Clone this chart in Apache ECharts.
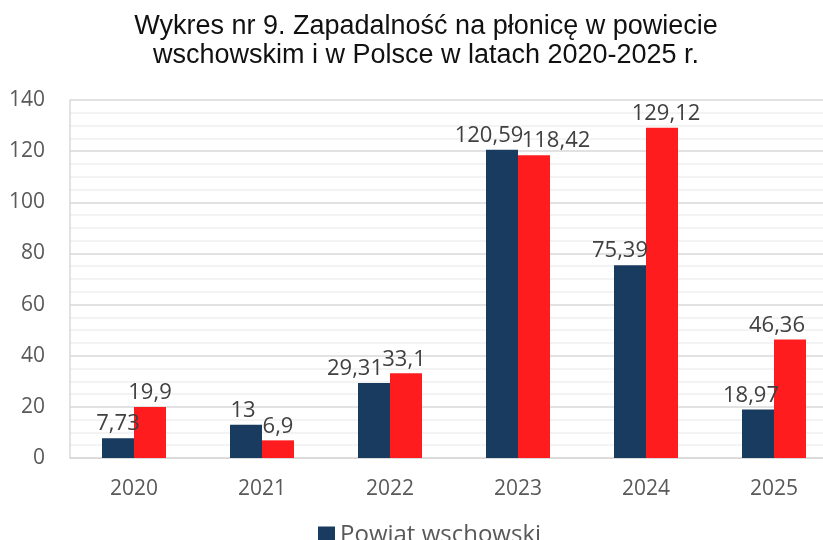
<!DOCTYPE html>
<html>
<head>
<meta charset="utf-8">
<script src="https://cdn.jsdelivr.net/npm/echarts@6/dist/echarts.min.js"></script>
<style>html,body{margin:0;padding:0;background:#fff;}#c{width:823px;height:540px;}</style>
</head>
<body>
<div id="c"></div>
<script>
var categories = ['2020', '2021', '2022', '2023', '2024', '2025'];
var powiatValues = [7.73, 13, 29.31, 120.59, 75.39, 18.97];
var polskaValues = [19.9, 6.9, 33.1, 118.42, 129.12, 46.36];
var seriesNames = ['Powiat wschowski', 'Polska'];
var yTicks = [0, 20, 40, 60, 80, 100, 120, 140];

var powiatShift = [0, -3, -19, -13, -10, -7];
var polskaShift = [0, 0, -2, 22, 4, -13];

function fmt(v) { return String(v).replace('.', ','); }
function build(vals, shifts) {
  return vals.map(function (v, i) {
    return { value: v, label: { offset: [shifts[i], 0] } };
  });
}

var chart = echarts.init(document.getElementById('c'), null, { renderer: 'canvas' });
var labelStyle = {
  show: true, position: 'top', distance: 3,
  fontFamily: 'Open Sans, Liberation Sans, sans-serif', fontSize: 22, color: '#404040',
  formatter: function (p) { return fmt(p.value); }
};
chart.setOption({
  animation: false,
  title: {
    text: 'Wykres nr 9. Zapadalność na płonicę w powiecie\nwschowskim i w Polsce w latach 2020-2025 r.',
    left: 421, top: 7, textAlign: 'center',
    textStyle: { fontFamily: 'Liberation Sans, Arial, sans-serif', fontSize: 27, fontWeight: 'normal', color: '#111', lineHeight: 29 }
  },
  legend: {
    data: [seriesNames[0]],
    left: 313, top: 518, itemWidth: 17, itemHeight: 17, itemGap: 10,
    icon: 'rect',
    textStyle: { fontFamily: 'Open Sans, Liberation Sans, sans-serif', fontSize: 24, color: '#595959' }
  },
  grid: { left: 70, width: 768, top: 100, bottom: 82, containLabel: false, outerBoundsMode: 'none' },
  xAxis: {
    type: 'category', data: categories,
    axisLine: { show: true, lineStyle: { color: '#d9d9d9', width: 1.5 } },
    axisTick: { show: false },
    axisLabel: { margin: 21, fontFamily: 'Open Sans, Liberation Sans, sans-serif', fontSize: 21, color: '#595959' }
  },
  yAxis: {
    type: 'value', min: 0, max: 140, interval: 20,
    axisLine: { show: true, lineStyle: { color: '#d9d9d9', width: 1.5 } },
    axisTick: { show: false },
    axisLabel: {
      margin: 25, fontFamily: 'Open Sans, Liberation Sans, sans-serif', fontSize: 21, color: '#595959',
      formatter: function (v) { return yTicks.indexOf(v) >= 0 ? String(v) : ''; }
    },
    splitLine: { show: true, lineStyle: { color: '#d9d9d9', width: 1.5 } },
    minorTick: { show: false, splitNumber: 4 },
    minorSplitLine: { show: true, lineStyle: { color: '#efefef', width: 1.5 } }
  },
  series: [
    {
      name: seriesNames[0], type: 'bar', data: build(powiatValues, powiatShift),
      barGap: '0%', barCategoryGap: '50%',
      itemStyle: { color: '#193b60' }, label: labelStyle
    },
    {
      name: seriesNames[1], type: 'bar', data: build(polskaValues, polskaShift),
      itemStyle: { color: '#ff1c1f' }, label: labelStyle
    }
  ]
});
</script>
</body>
</html>
